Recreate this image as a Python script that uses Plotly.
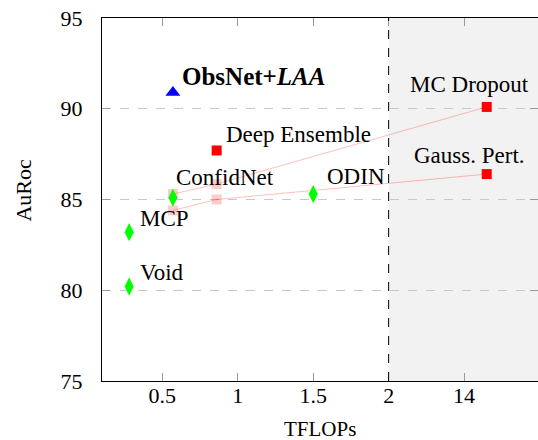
import plotly.graph_objects as go

# ---- data (x = position on the broken TFLOPs axis; "14" sits at position 2.5) ----
tick_vals = [0.5, 1, 1.5, 2, 2.5]
tick_text = ["0.5", "1", "1.5", "2", "14"]

green_names = ["ConfidNet", "ODIN", "MCP", "Void"]
green_x = [0.57, 1.5, 0.28, 0.28]
green_y = [85.1, 85.3, 83.2, 80.2]

red_names = ["MC Dropout", "Gauss. Pert.", "Deep Ensemble"]
red_x = [2.65, 2.65, 0.86]
red_y = [90.1, 86.4, 87.7]

ours_name = "<b>ObsNet+<i>LAA</i></b>"
ours_x = [0.57]
ours_y = [90.9]

# faded (cheaper) variants of MC Dropout / Gauss. Pert.
mc_x = [0.57, 0.86, 2.65]
mc_y = [85.3, 85.85, 90.1]
gp_x = [0.57, 0.86, 2.65]
gp_y = [84.4, 85.0, 86.4]

x_break = 2  # dashed separator, shaded region beyond

# label offsets in pixels (dx to text left, dy to text centre, up positive)
offsets = {
    "ConfidNet": (1, 20), "ODIN": (12, 18), "MCP": (9, 14), "Void": (9, 14),
    "MC Dropout": (-79, 22), "Gauss. Pert.": (-75, 19), "Deep Ensemble": (7, 16),
    ours_name: (7, 16),
}
label_size = {ours_name: 25}

FONT = "Liberation Serif"

fig = go.Figure()

for xs, ys in [(mc_x, mc_y), (gp_x, gp_y)]:
    fig.add_trace(go.Scatter(x=xs, y=ys, mode="lines",
                             line=dict(color="rgba(255,0,0,0.25)", width=1),
                             hoverinfo="skip", showlegend=False))
    fig.add_trace(go.Scatter(x=xs[:-1], y=ys[:-1], mode="markers",
                             marker=dict(symbol="square", size=10, color="rgba(255,0,0,0.2)"),
                             showlegend=False))

fig.add_trace(go.Scatter(x=red_x, y=red_y, mode="markers",
                         marker=dict(symbol="square", size=10, color="#ff0000"),
                         showlegend=False))
fig.add_trace(go.Scatter(x=green_x, y=green_y, mode="markers",
                         marker=dict(symbol="diamond-tall", size=13, color="#00ff00"),
                         showlegend=False))
fig.add_trace(go.Scatter(x=ours_x, y=ours_y, mode="markers",
                         marker=dict(symbol="triangle-up", size=13, color="#0000ff"),
                         showlegend=False))

for names, xs, ys in [(green_names, green_x, green_y), (red_names, red_x, red_y),
                      ([ours_name], ours_x, ours_y)]:
    for n, x, y in zip(names, xs, ys):
        dx, dy = offsets[n]
        fig.add_annotation(x=x, y=y, text=n, showarrow=False, xanchor="left",
                           yanchor="middle", xshift=dx, yshift=dy,
                           font=dict(family=FONT, size=label_size.get(n, 23), color="black"))

fig.add_shape(type="rect", xref="x", yref="paper", x0=x_break, x1=3.5, y0=0, y1=1,
              fillcolor="#f2f2f2", line_width=0, layer="below")
fig.add_shape(type="line", xref="x", yref="paper", x0=x_break, x1=x_break, y0=0, y1=1,
              line=dict(color="black", width=1, dash="dash"))

fig.add_annotation(xref="paper", yref="paper", x=0.5, y=-0.133, text="TFLOPs",
                   showarrow=False, yanchor="middle",
                   font=dict(family=FONT, size=21, color="black"))
fig.add_annotation(xref="paper", yref="paper", x=-0.18, y=0.526, text="AuRoc",
                   showarrow=False, textangle=-90, xanchor="center",
                   font=dict(family=FONT, size=22, color="black"))

fig.update_layout(
    width=538, height=440,
    margin=dict(l=102, r=0, t=18, b=59),
    paper_bgcolor="white", plot_bgcolor="white",
    font=dict(family=FONT, size=22, color="black"),
    showlegend=False,
    xaxis=dict(range=[0.1, 2.99], tickvals=tick_vals, ticktext=tick_text,
               showgrid=False, zeroline=False, showline=True, linecolor="black",
               linewidth=1, mirror="ticks", ticks="inside", ticklen=8,
               tickcolor="#999999", ticklabelstandoff=-5),
    yaxis=dict(range=[75, 95], tickvals=[75, 80, 85, 90, 95],
               showgrid=True, gridcolor="#c8c8c8", griddash="dash", gridwidth=1,
               zeroline=False, showline=True, linecolor="black", linewidth=1,
               mirror="ticks", ticks="inside", ticklen=8, tickcolor="#999999",
               ticklabelstandoff=14),
)

fig.write_html("out.html", config={"displayModeBar": False},
               post_script="document.body.style.margin='0';document.body.style.overflow='hidden';")
